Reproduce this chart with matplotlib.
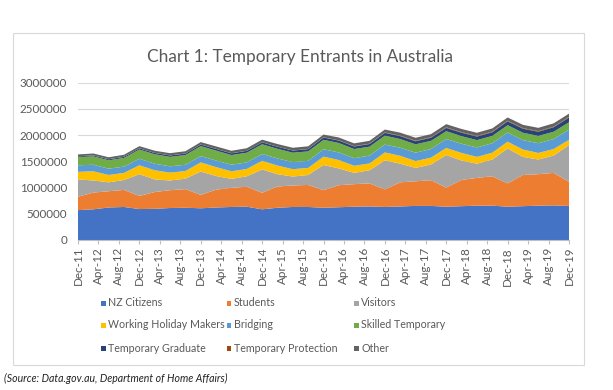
import matplotlib
matplotlib.use('Agg')
import matplotlib.pyplot as plt
from matplotlib import patches
import numpy as np
import pandas as pd

plt.rcParams['font.family'] = ['Lato', 'DejaVu Sans']

# quarterly observations, Dec-11 .. Dec-19 (thousands)
quarters = pd.date_range('2011-12-01', '2019-12-01', freq='3MS')

nz_citizens = [570, 585, 620, 630, 590, 595, 610, 615, 605, 620, 630, 635, 585, 615, 630, 630, 615,
               625, 635, 640, 630, 640, 650, 650, 635, 645, 655, 655, 635, 645, 655, 660, 650]
students = [255, 320, 310, 325, 250, 320, 340, 355, 255, 340, 365, 380, 315, 405, 410, 420, 335,
            420, 430, 440, 335, 460, 470, 490, 365, 500, 530, 560, 445, 595, 600, 620, 460]
visitors = [330, 230, 170, 190, 415, 240, 185, 200, 445, 260, 170, 200, 445, 235, 170, 190, 480,
            320, 215, 250, 555, 355, 255, 300, 620, 370, 270, 320, 665, 345, 280, 330, 700]
working_holiday = [145, 175, 140, 135, 170, 175, 150, 145, 175, 170, 145, 140, 165, 165, 140, 135, 160,
                   160, 135, 130, 150, 150, 130, 130, 135, 145, 130, 130, 130, 140, 125, 125, 100]
bridging = [125, 125, 120, 120, 125, 125, 120, 120, 120, 125, 125, 125, 130, 135, 135, 135, 140,
            145, 145, 150, 150, 155, 160, 165, 170, 175, 180, 180, 175, 180, 185, 190, 195]
skilled = [155, 160, 160, 165, 175, 180, 180, 185, 190, 190, 185, 185, 185, 185, 180, 180, 180,
           180, 175, 170, 170, 165, 160, 155, 150, 145, 140, 140, 140, 140, 140, 140, 140]
temp_graduate = [15, 17, 19, 21, 23, 25, 27, 28, 30, 32, 33, 35, 37, 38, 40, 42, 44,
                 46, 48, 50, 53, 56, 58, 60, 63, 66, 68, 70, 73, 77, 80, 85, 90]
temp_protection = [2, 2, 2, 2, 2, 2, 2, 2, 2, 2, 2, 2, 2, 2, 3, 3, 4,
                   5, 6, 7, 8, 9, 10, 10, 11, 11, 12, 12, 12, 12, 12, 12, 12]
other = [35, 36, 37, 38, 40, 41, 42, 43, 45, 46, 47, 48, 50, 50, 51, 52, 53,
         54, 54, 55, 56, 57, 57, 58, 60, 60, 60, 61, 62, 62, 62, 63, 63]

names = ['NZ Citizens', 'Students', 'Visitors', 'Working Holiday Makers', 'Bridging',
         'Skilled Temporary', 'Temporary Graduate', 'Temporary Protection', 'Other']
colors = ['#4472C4', '#ED7D31', '#A5A5A5', '#FFC000', '#5B9BD5',
          '#70AD47', '#264478', '#9E480E', '#636363']
series = [nz_citizens, students, visitors, working_holiday, bridging,
          skilled, temp_graduate, temp_protection, other]

tick_dates = pd.date_range('2011-12-01', '2019-12-01', freq='4MS')
tick_labels = [d.strftime('%b-%y') for d in tick_dates]


def month_offset(dates):
    return [(d.year - 2011) * 12 + d.month - 12 for d in dates]


x = month_offset(quarters)
ys = [np.array(s) * 1000 for s in series]

fig = plt.figure(figsize=(6.13, 3.9), dpi=100)
fig.patch.set_facecolor('white')

# chart frame
fig.add_artist(patches.Rectangle((13 / 613, 1 - 365 / 390), 571 / 613, 332 / 390,
                                 transform=fig.transFigure, fill=False,
                                 edgecolor='#D9D9D9', lw=0.8))

ax = fig.add_axes([78 / 613, 1 - 240 / 390, 491 / 613, 157.3 / 390])
ax.stackplot(x, *ys, colors=colors, lw=0)
ax.set_xlim(0, 96)
ax.set_ylim(0, 3000000)
ax.set_yticks(np.arange(0, 3000001, 500000))
ax.yaxis.set_major_formatter(matplotlib.ticker.FuncFormatter(lambda v, p: '%d' % v))
ax.grid(axis='y', color='#D9D9D9', lw=0.8)
ax.set_axisbelow(True)
for side in ['top', 'right', 'left']:
    ax.spines[side].set_visible(False)
ax.spines['bottom'].set_color('#BFBFBF')
ax.set_xticks(month_offset(tick_dates))
ax.set_xticklabels(tick_labels, rotation=90)
ax.tick_params(axis='y', length=0, labelsize=8.4, labelcolor='#595959', pad=8)
ax.tick_params(axis='x', length=3, color='#BFBFBF', labelsize=8.4, labelcolor='#595959', pad=2)

fig.text(300 / 613, 1 - 57 / 390, 'Chart 1: Temporary Entrants in Australia',
         ha='center', va='center', fontsize=12.4, color='#595959')

# legend, 3 x 3 grid
col_x = [103, 229, 356]
row_y = [303, 325, 348]
for i, (name, c) in enumerate(zip(names, colors)):
    cx = col_x[i % 3]
    cy = row_y[i // 3]
    fig.add_artist(patches.Rectangle((cx / 613 - 2.5 / 613, 1 - (cy + 2.5) / 390), 5 / 613, 5 / 390,
                                     transform=fig.transFigure, color=c, lw=0))
    fig.text((cx + 5) / 613, 1 - cy / 390, name, ha='left', va='center',
             fontsize=7.7, color='#595959')

fig.text(4 / 613, 1 - 378 / 390, '(Source: Data.gov.au, Department of Home Affairs)',
         ha='left', va='center', fontsize=7.6, style='italic', color='#222222')

fig.savefig('out.png', dpi=100)
